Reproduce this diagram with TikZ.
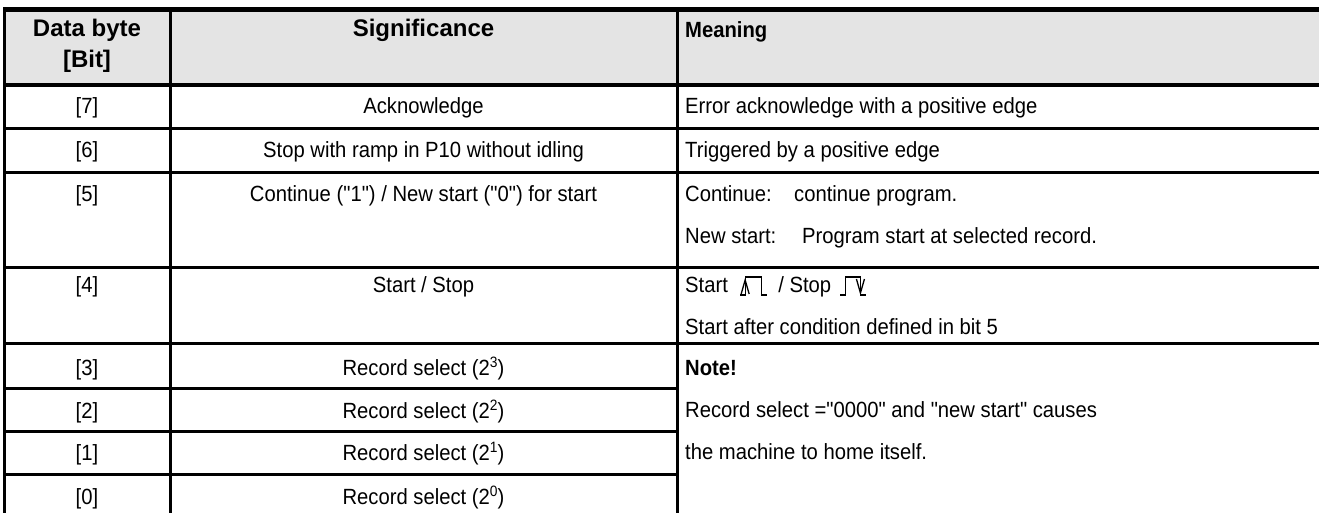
\documentclass[tikz,border=0pt]{standalone}
\usepackage{fontspec}
\setmainfont{Liberation Sans}
\newfontfamily\tabfont{Liberation Sans}[FakeStretch=0.92]
\newfontfamily\headfont{Liberation Sans}
\usetikzlibrary{positioning}
\definecolor{headcol}{HTML}{E4E4E4}
\newcommand{\pow}[1]{\raisebox{8pt}{\fontsize{15}{15}\selectfont #1}}
\tikzstyle{head} = [anchor=base, font=\headfont\fontsize{24}{28}\selectfont\bfseries]
\tikzstyle{cell} = [anchor=base]
\tikzstyle{mean} = [anchor=base west]
\tikzstyle{thickrule} = [line width=4.5pt]
\tikzstyle{rule} = [line width=3pt]
\tikzstyle{pulse} = [line width=1.3pt, line join=miter]

\begin{document}
\begin{tikzpicture}[x=1pt, y=-1pt, every node/.style={font=\tabfont\fontsize{22}{26}\selectfont, inner sep=0pt}]
\useasboundingbox (0,0) rectangle (1319,513);

%Header background
\fill[headcol] (4.5,9.5) rectangle (1319,85);

%Vertical rules
\draw[rule] (4.5,8) -- (4.5,513);
\draw[rule] (170,8) -- (170,513);
\draw[rule] (677,8) -- (677,513);

%Horizontal rules
\draw[thickrule] (3,9.5) -- (1319,9.5);
\draw[thickrule] (3,85) -- (1319,85);
\draw[rule] (3,129) -- (1319,129);
\draw[rule] (3,173) -- (1319,173);
\draw[rule] (3,267) -- (1319,267);
\draw[rule] (3,343) -- (1319,343);
\draw[rule] (3,388) -- (677,388);
\draw[rule] (3,431) -- (677,431);
\draw[rule] (3,474) -- (677,474);

%Header
\node (hbyte) [head] at (87,37) {Data byte};
\node (hbit) [head] at (87,68) {[Bit]};
\node (hsig) [head] at (423.5,37) {Significance};
\node (hmean) [mean, font=\tabfont\fontsize{22}{26}\selectfont\bfseries] at (685,38) {Meaning};

%Bit numbers
\node (b7) [cell] at (87,114) {[7]};
\node (b6) [cell] at (87,158) {[6]};
\node (b5) [cell] at (87,201) {[5]};
\node (b4) [cell] at (87,292) {[4]};
\node (b3) [cell] at (87,375) {[3]};
\node (b2) [cell] at (87,418) {[2]};
\node (b1) [cell] at (87,460) {[1]};
\node (b0) [cell] at (87,504) {[0]};

%Significance
\node (s7) [cell] at (423.5,114) {Acknowledge};
\node (s6) [cell] at (423.5,158) {Stop with ramp in P10 without idling};
\node (s5) [cell] at (423.5,201) {Continue ("1") / New start ("0") for start};
\node (s4) [cell] at (423.5,292) {Start / Stop};
\node (s3) [cell] at (423.5,375) {Record select (2\pow{3})};
\node (s2) [cell] at (423.5,418) {Record select (2\pow{2})};
\node (s1) [cell] at (423.5,460) {Record select (2\pow{1})};
\node (s0) [cell] at (423.5,504) {Record select (2\pow{0})};

%Meaning
\node (m7) [mean] at (685,114) {Error acknowledge with a positive edge};
\node (m6) [mean] at (685,158) {Triggered by a positive edge};
\node (cont) [mean] at (685,201) {Continue:};
\node (contm) [mean] at (794,201) {continue program.};
\node (new) [mean] at (685,243) {New start:};
\node (newm) [mean] at (802,243) {Program start at selected record.};
\node (start) [mean] at (685,292) {Start};
\coordinate (p1) at ([xshift=12pt,yshift=-3pt]start.base east);
\node (stop) [mean] at ([xshift=38pt,yshift=3pt]p1) {/ Stop};
\coordinate (p2) at ([xshift=9pt,yshift=-3pt]stop.base east);
\node (after) [mean] at (685,334) {Start after condition defined in bit 5};
\node (note) [mean, font=\tabfont\fontsize{22}{26}\selectfont\bfseries] at (685,375) {Note!};
\node (rec) [mean] at (685,417) {Record select ="0000" and "new start" causes};
\node (home) [mean] at (685,459) {the machine to home itself.};

%Pulse symbols
\draw[pulse] (p1) -- ++(5,0) -- ++(0,-18) -- ++(16,0) -- ++(0,18) -- ++(6,0);
\draw[pulse] (p1)++(1,-1) -- ++(4,-14) -- ++(4,14);
\draw[pulse] (p2) -- ++(5,0) -- ++(0,-18) -- ++(15,0) -- ++(0,18) -- ++(6,0);
\draw[pulse] (p2)++(16,-16) -- ++(4,14) -- ++(4,-14);
\end{tikzpicture}
\end{document}
